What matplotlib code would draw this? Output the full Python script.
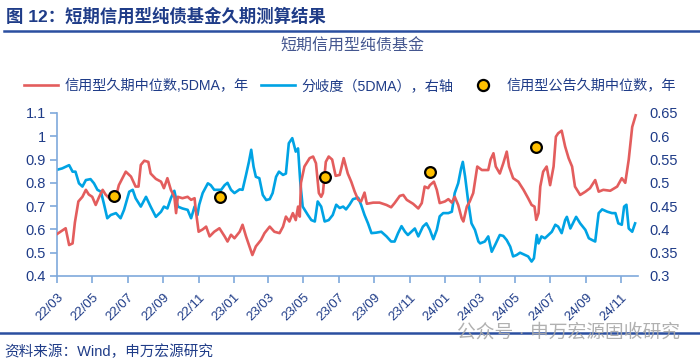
import matplotlib
matplotlib.use("Agg")
import matplotlib.pyplot as plt
import pandas as pd
from matplotlib.lines import Line2D

plt.rcParams['font.family'] = ['Liberation Sans', 'Noto Sans CJK SC', 'DejaVu Sans']

# 信用型久期中位数, 5DMA (left axis)
red_dates = ["2022-03-01","2022-03-16","2022-03-22","2022-03-28","2022-04-01","2022-04-07","2022-04-14",
             "2022-04-20","2022-04-25","2022-05-01","2022-05-07","2022-05-13","2022-05-19","2022-05-24",
             "2022-06-02","2022-06-11","2022-06-16","2022-06-28","2022-07-07","2022-07-15","2022-07-20",
             "2022-07-24","2022-07-30","2022-08-06","2022-08-10","2022-08-19","2022-08-28","2022-09-02",
             "2022-09-08","2022-09-14","2022-09-20","2022-09-23","2022-09-26","2022-10-04","2022-10-13",
             "2022-10-19","2022-10-25","2022-10-27","2022-11-01","2022-11-08","2022-11-14","2022-11-20",
             "2022-11-28","2022-12-07","2022-12-16","2022-12-21","2022-12-27","2023-01-02","2023-01-11",
             "2023-01-16","2023-01-22","2023-01-28","2023-02-02","2023-02-08","2023-02-17","2023-02-23",
             "2023-03-04","2023-03-12","2023-03-21","2023-03-27","2023-04-01","2023-04-07","2023-04-13",
             "2023-04-18","2023-04-22","2023-04-25","2023-04-27","2023-05-03","2023-05-12","2023-05-18",
             "2023-05-23","2023-05-28","2023-06-01","2023-06-04","2023-06-09","2023-06-14","2023-06-20",
             "2023-06-26","2023-07-03","2023-07-10","2023-07-17","2023-07-23","2023-07-29","2023-08-04",
             "2023-08-09","2023-08-15","2023-08-19","2023-08-30","2023-09-10","2023-09-22","2023-09-30",
             "2023-10-06","2023-10-15","2023-10-21","2023-10-27","2023-11-07","2023-11-16","2023-11-22",
             "2023-11-27","2023-12-03","2023-12-06","2023-12-13","2023-12-18","2023-12-23","2024-01-01",
             "2024-01-07","2024-01-13","2024-01-18","2024-01-24","2024-01-30","2024-02-02","2024-02-08",
             "2024-02-13","2024-02-19","2024-02-26","2024-03-05","2024-03-16","2024-03-20","2024-03-25",
             "2024-03-29","2024-04-05","2024-04-11","2024-04-17","2024-04-21","2024-04-28","2024-05-07",
             "2024-05-16","2024-05-24","2024-05-30","2024-06-04","2024-06-07","2024-06-11","2024-06-14",
             "2024-06-19","2024-06-25","2024-07-01","2024-07-07","2024-07-11","2024-07-15","2024-07-21",
             "2024-07-27","2024-08-02","2024-08-08","2024-08-13","2024-08-22","2024-08-31","2024-09-08",
             "2024-09-17","2024-09-23","2024-10-01","2024-10-13","2024-10-25","2024-11-02","2024-11-08",
             "2024-11-14","2024-11-20","2024-11-26"]
red_vals = [0.58,0.605,0.533,0.54,0.63,0.72,0.74,
            0.77,0.75,0.74,0.705,0.74,0.77,0.75,
            0.727,0.74,0.79,0.848,0.827,0.784,0.784,
            0.877,0.895,0.89,0.84,0.817,0.805,0.777,
            0.82,0.77,0.74,0.67,0.74,0.734,0.74,
            0.727,0.734,0.684,0.59,0.6,0.612,0.57,
            0.59,0.605,0.57,0.548,0.577,0.562,0.59,
            0.62,0.57,0.527,0.49,0.527,0.555,0.584,
            0.612,0.59,0.584,0.612,0.655,0.634,0.67,
            0.64,0.698,0.655,0.8,0.87,0.906,0.913,
            0.884,0.756,0.74,0.756,0.89,0.913,0.9,
            0.83,0.834,0.906,0.84,0.805,0.762,0.727,
            0.72,0.758,0.71,0.715,0.715,0.705,0.695,
            0.713,0.744,0.748,0.727,0.71,0.69,0.713,
            0.784,0.777,0.79,0.805,0.77,0.713,0.72,
            0.73,0.715,0.74,0.705,0.648,0.634,0.698,
            0.72,0.756,0.87,0.855,0.855,0.9,0.927,
            0.87,0.84,0.884,0.934,0.87,0.82,0.805,
            0.77,0.734,0.705,0.698,0.641,0.67,0.784,
            0.848,0.87,0.79,0.87,0.998,1.013,1.024,
            0.956,0.906,0.87,0.784,0.748,0.762,0.777,
            0.812,0.762,0.77,0.766,0.784,0.82,0.8,
            0.9,1.04,1.09]

# 分歧度 (5DMA), right axis
blue_dates = ["2022-03-01","2022-03-10","2022-03-22","2022-03-28","2022-04-02","2022-04-08","2022-04-14",
              "2022-04-20","2022-04-28","2022-05-04","2022-05-10","2022-05-16","2022-05-21","2022-05-27",
              "2022-06-02","2022-06-11","2022-06-19","2022-06-25","2022-07-04","2022-07-10","2022-07-15",
              "2022-07-24","2022-08-02","2022-08-10","2022-08-19","2022-08-28","2022-09-02","2022-09-08",
              "2022-09-14","2022-09-20","2022-09-26","2022-10-04","2022-10-13","2022-10-19","2022-10-25",
              "2022-10-30","2022-11-02","2022-11-08","2022-11-17","2022-11-22","2022-11-28","2022-12-10",
              "2022-12-16","2022-12-21","2022-12-27","2023-01-02","2023-01-11","2023-01-16","2023-01-22",
              "2023-01-27","2023-01-31","2023-02-04","2023-02-08","2023-02-14","2023-02-20","2023-02-26",
              "2023-03-04","2023-03-09","2023-03-15","2023-03-20","2023-03-27","2023-04-01","2023-04-06",
              "2023-04-12","2023-04-18","2023-04-22","2023-04-26","2023-04-30","2023-05-09","2023-05-15",
              "2023-05-21","2023-05-26","2023-06-01","2023-06-07","2023-06-14","2023-06-21","2023-06-27",
              "2023-07-03","2023-07-09","2023-07-14","2023-07-20","2023-07-26","2023-08-04","2023-08-09",
              "2023-08-15","2023-08-21","2023-08-27","2023-09-04","2023-09-13","2023-09-22","2023-09-30",
              "2023-10-06","2023-10-12","2023-10-18","2023-10-24","2023-10-29","2023-11-04","2023-11-10",
              "2023-11-16","2023-11-24","2023-11-30","2023-12-06","2023-12-12","2023-12-18","2023-12-23",
              "2023-12-29","2024-01-07","2024-01-13","2024-01-18","2024-01-24","2024-01-29","2024-02-01",
              "2024-02-05","2024-02-10","2024-02-16","2024-02-22","2024-02-28","2024-03-02","2024-03-10",
              "2024-03-16","2024-03-22","2024-03-28","2024-04-05","2024-04-11","2024-04-17","2024-04-23",
              "2024-04-28","2024-05-04","2024-05-10","2024-05-19","2024-05-24","2024-05-30","2024-06-03",
              "2024-06-08","2024-06-11","2024-06-16","2024-06-22","2024-06-28","2024-07-04","2024-07-10",
              "2024-07-15","2024-07-21","2024-07-27","2024-07-30","2024-08-05","2024-08-11","2024-08-15",
              "2024-08-22","2024-08-31","2024-09-06","2024-09-12","2024-09-17","2024-09-23","2024-09-29",
              "2024-10-08","2024-10-16","2024-10-22","2024-10-27","2024-11-02","2024-11-06","2024-11-10",
              "2024-11-14","2024-11-20","2024-11-25"]
blue_vals = [0.528,0.531,0.538,0.524,0.524,0.499,0.492,
             0.506,0.508,0.499,0.485,0.481,0.456,0.424,
             0.431,0.435,0.424,0.442,0.481,0.485,0.467,
             0.449,0.47,0.449,0.427,0.438,0.449,0.445,
             0.467,0.483,0.449,0.445,0.442,0.424,0.449,
             0.431,0.453,0.478,0.499,0.495,0.485,0.485,
             0.495,0.5,0.485,0.478,0.486,0.485,0.517,
             0.545,0.571,0.535,0.513,0.51,0.474,0.463,
             0.465,0.478,0.513,0.524,0.517,0.52,0.585,
             0.596,0.567,0.574,0.499,0.449,0.431,0.42,
             0.417,0.46,0.449,0.417,0.42,0.431,0.453,
             0.446,0.449,0.443,0.453,0.465,0.468,0.453,
             0.431,0.413,0.392,0.393,0.395,0.385,0.374,
             0.374,0.392,0.407,0.395,0.388,0.395,0.402,
             0.385,0.406,0.413,0.399,0.379,0.399,0.428,
             0.435,0.435,0.438,0.478,0.499,0.531,0.545,
             0.513,0.463,0.413,0.399,0.374,0.37,0.374,
             0.385,0.352,0.367,0.388,0.386,0.377,0.363,
             0.342,0.345,0.35,0.345,0.342,0.331,0.338,
             0.388,0.37,0.385,0.381,0.388,0.395,0.41,
             0.406,0.392,0.42,0.427,0.402,0.417,0.427,
             0.413,0.399,0.381,0.377,0.374,0.435,0.443,
             0.438,0.435,0.435,0.413,0.41,0.449,0.453,
             0.402,0.395,0.413]

# 信用型公告久期中位数 (left axis)
dot_dates = ["2022-06-08", "2022-12-08", "2023-06-07", "2023-12-07", "2024-06-06"]
dot_vals = [0.745, 0.741, 0.827, 0.846, 0.956]

navy = '#1F3C88'
spine_c = '#7FA9DB'
red_c = '#E35D5D'
blue_c = '#00A3E4'

fig = plt.figure(figsize=(7, 3.64), dpi=100)
ax = fig.add_axes([0.0814, 0.2418, 0.83, 0.4478])
ax2 = ax.twinx()

ax.plot(pd.to_datetime(red_dates), red_vals, color=red_c, lw=1.9, zorder=3)
ax2.plot(pd.to_datetime(blue_dates), blue_vals, color=blue_c, lw=1.9, zorder=3)
ax.scatter(pd.to_datetime(dot_dates), dot_vals, s=60, color='#FFC000', edgecolor='black',
           linewidth=1.6, zorder=5)
ax.set_zorder(ax2.get_zorder() + 1)
ax.patch.set_visible(False)

ax.set_xlim(pd.Timestamp('2022-03-01'), pd.Timestamp('2024-11-30'))
ax.set_ylim(0.4, 1.1)
ax2.set_ylim(0.3, 0.65)
ax.set_yticks([0.4, 0.5, 0.6, 0.7, 0.8, 0.9, 1.0, 1.1])
ax.set_yticklabels(['0.4', '0.5', '0.6', '0.7', '0.8', '0.9', '1', '1.1'])
ax2.set_yticks([0.3, 0.35, 0.4, 0.45, 0.5, 0.55, 0.6, 0.65])
ax2.set_yticklabels(['0.3', '0.35', '0.4', '0.45', '0.5', '0.55', '0.6', '0.65'])

xt = pd.date_range('2022-03-01', '2024-11-01', freq='2MS')
ax.set_xticks(xt)
ax.set_xticklabels([d.strftime('%y/%m') for d in xt], rotation=45, ha='right',
                   rotation_mode='anchor', fontsize=9.5, color=navy)

for a in (ax, ax2):
    for s in ('top', 'right'):
        a.spines[s].set_visible(False)
ax2.spines['left'].set_visible(False)
ax2.spines['bottom'].set_visible(False)
ax.spines['left'].set_color(spine_c)
ax.spines['bottom'].set_color(spine_c)
ax.spines['left'].set_linewidth(1.2)
ax.spines['bottom'].set_linewidth(1.2)
ax.tick_params(axis='y', colors=spine_c, labelcolor=navy, labelsize=10.5, length=5, width=1.2, pad=3)
ax.tick_params(axis='x', colors=spine_c, labelcolor=navy, length=5, width=1.2, pad=6)
ax2.tick_params(axis='y', length=0, labelcolor=navy, labelsize=10.5, pad=8)

handles = [Line2D([], [], color=red_c, lw=1.9),
           Line2D([], [], color=blue_c, lw=1.9),
           Line2D([], [], ls='none', marker='o', markersize=8, markerfacecolor='#FFC000',
                  markeredgecolor='black', markeredgewidth=1.6)]
labels = ['信用型久期中位数,5DMA，年', '分岐度（5DMA），右轴', '信用型公告久期中位数，年']
leg = fig.legend(handles, labels, loc='center', bbox_to_anchor=(0.5, 1 - 86 / 364), ncol=3,
                 frameon=False, fontsize=10.2, handlelength=2.4, columnspacing=0.9, handletextpad=0.45)
for t in leg.get_texts():
    t.set_color(navy)

fig.text(0.008, 1 - 16 / 364, '图 12：短期信用型纯债基金久期测算结果', fontsize=12.5,
         fontweight='bold', color=navy, va='center', ha='left')
fig.add_artist(Line2D([0.006, 1.0], [1 - 31 / 364, 1 - 31 / 364], color='#2B4FA0', lw=1.8))
fig.text(0.503, 1 - 46 / 364, '短期信用型纯债基金', fontsize=11.5, color='#44568F',
         ha='center', va='center')

fig.add_artist(Line2D([0.0, 1.0], [1 - 333 / 364, 1 - 333 / 364], color='#2B4FA0', lw=1.8))
fig.text(0.006, 1 - 352 / 364, '资料来源：Wind，申万宏源研究', fontsize=10.5, color=navy,
         ha='left', va='center')
fig.text(0.972, 1 - 333 / 364, '公众号 · 申万宏源固收研究', fontsize=13.5, color='#A8A8A8',
         ha='right', va='center', alpha=0.9)

plt.savefig('out.png', dpi=100)
